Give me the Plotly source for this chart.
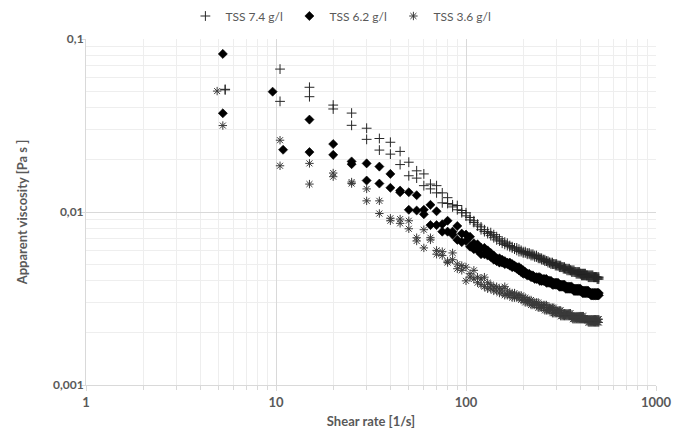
import plotly.graph_objects as go

shear_rate = [5, 10, 15, 20, 25, 30, 35, 40, 45, 50, 55, 60, 65, 70, 75, 80, 85, 90, 95, 100,
              105, 110, 115, 120, 125, 130, 135, 140, 145, 150, 155, 160, 165, 170, 175, 180, 185, 190, 195, 200,
              205, 210, 215, 220, 225, 230, 235, 240, 245, 250, 255, 260, 265, 270, 275, 280, 285, 290, 295, 300,
              305, 310, 315, 320, 325, 330, 335, 340, 345, 350, 355, 360, 365, 370, 375, 380, 385, 390, 395, 400,
              405, 410, 415, 420, 425, 430, 435, 440, 445, 450, 455, 460, 465, 470, 475, 480, 485, 490, 495, 500]

# first two shear rates as they appear for each series
first_rates_74 = [5.4, 10.5]
first_rates_62 = [5.25, 9.6]
first_rates_62b = [5.25, 10.9]
first_rates_36 = [4.9, 10.5]
first_rates_36b = [5.25, 10.5]

# TSS 7.4 g/l  (two sweeps)
tss74_a = [0.0512, 0.0670, 0.0526, 0.0415, 0.0373, 0.0305, 0.0266, 0.0253, 0.0224, 0.0194,
           0.0173, 0.0166, 0.0145, 0.0142, 0.0129, 0.0121, 0.0110, 0.0109, 0.0102, 0.0099,
           0.0093, 0.0089, 0.0085, 0.0082, 0.0079, 0.0077, 0.0076, 0.0074, 0.0072, 0.0070,
           0.0068, 0.0067, 0.0066, 0.0064, 0.0063, 0.0062, 0.0062, 0.0061, 0.0060, 0.0059,
           0.0059, 0.0058, 0.0058, 0.0057, 0.0057, 0.0056, 0.0056, 0.0055, 0.0054, 0.0054,
           0.0053, 0.0053, 0.0052, 0.0052, 0.0051, 0.0051, 0.0051, 0.0050, 0.0050, 0.0050,
           0.0049, 0.0049, 0.0049, 0.0048, 0.0048, 0.0048, 0.0047, 0.0047, 0.0047, 0.0047,
           0.0046, 0.0046, 0.0046, 0.0046, 0.0045, 0.0045, 0.0045, 0.0045, 0.0045, 0.0044,
           0.0044, 0.0044, 0.0044, 0.0044, 0.0044, 0.0043, 0.0043, 0.0043, 0.0043, 0.0043,
           0.0043, 0.0043, 0.0043, 0.0042, 0.0042, 0.0042, 0.0042, 0.0042, 0.0042, 0.0042]
tss74_b = [0.0508, 0.0436, 0.0464, 0.0394, 0.0317, 0.0263, 0.0228, 0.0216, 0.0188, 0.0162,
           0.0157, 0.0142, 0.0136, 0.0129, 0.0113, 0.0112, 0.0107, 0.0103, 0.0099, 0.0095,
           0.0090, 0.0087, 0.0083, 0.0079, 0.0077, 0.0075, 0.0073, 0.0071, 0.0069, 0.0068,
           0.0066, 0.0065, 0.0064, 0.0063, 0.0062, 0.0061, 0.0060, 0.0059, 0.0059, 0.0058,
           0.0058, 0.0057, 0.0057, 0.0056, 0.0056, 0.0055, 0.0055, 0.0054, 0.0054, 0.0053,
           0.0053, 0.0052, 0.0052, 0.0051, 0.0051, 0.0050, 0.0050, 0.0050, 0.0049, 0.0049,
           0.0049, 0.0048, 0.0048, 0.0048, 0.0047, 0.0047, 0.0047, 0.0046, 0.0046, 0.0046,
           0.0046, 0.0045, 0.0045, 0.0045, 0.0045, 0.0044, 0.0044, 0.0044, 0.0044, 0.0044,
           0.0043, 0.0043, 0.0043, 0.0043, 0.0043, 0.0043, 0.0043, 0.0042, 0.0042, 0.0042,
           0.0042, 0.0042, 0.0042, 0.0042, 0.0042, 0.0042, 0.0042, 0.0041, 0.0041, 0.0041]

# TSS 6.2 g/l  (two sweeps)
tss62_a = [0.0820, 0.0496, 0.0342, 0.0247, 0.0196, 0.0191, 0.0183, 0.0166, 0.0133, 0.0130,
           0.0125, 0.0103, 0.0110, 0.0101, 0.0085, 0.0089, 0.0077, 0.0083, 0.0075, 0.0074,
           0.0072, 0.0066, 0.0065, 0.0062, 0.0062, 0.0060, 0.0058, 0.0056, 0.0054, 0.0054,
           0.0053, 0.0052, 0.0051, 0.0051, 0.0050, 0.0049, 0.0048, 0.0048, 0.0047, 0.0046,
           0.0045, 0.0044, 0.0044, 0.0043, 0.0043, 0.0042, 0.0042, 0.0042, 0.0042, 0.0041,
           0.0041, 0.0041, 0.0041, 0.0040, 0.0040, 0.0040, 0.0039, 0.0039, 0.0039, 0.0039,
           0.0039, 0.0038, 0.0038, 0.0038, 0.0038, 0.0038, 0.0037, 0.0037, 0.0037, 0.0037,
           0.0037, 0.0037, 0.0036, 0.0036, 0.0036, 0.0036, 0.0036, 0.0036, 0.0036, 0.0036,
           0.0035, 0.0035, 0.0035, 0.0035, 0.0035, 0.0035, 0.0035, 0.0035, 0.0034, 0.0034,
           0.0034, 0.0034, 0.0034, 0.0034, 0.0034, 0.0034, 0.0034, 0.0034, 0.0034, 0.0034]
tss62_b = [0.0372, 0.0229, 0.0222, 0.0214, 0.0189, 0.0152, 0.0146, 0.0138, 0.0130, 0.0103,
           0.0102, 0.0097, 0.0084, 0.0084, 0.0077, 0.0077, 0.0074, 0.0069, 0.0067, 0.0068,
           0.0063, 0.0061, 0.0060, 0.0057, 0.0057, 0.0056, 0.0055, 0.0053, 0.0052, 0.0051,
           0.0051, 0.0050, 0.0050, 0.0049, 0.0048, 0.0048, 0.0047, 0.0046, 0.0045, 0.0044,
           0.0044, 0.0043, 0.0043, 0.0042, 0.0042, 0.0041, 0.0041, 0.0041, 0.0040, 0.0040,
           0.0040, 0.0040, 0.0039, 0.0039, 0.0039, 0.0039, 0.0038, 0.0038, 0.0038, 0.0038,
           0.0038, 0.0037, 0.0037, 0.0037, 0.0037, 0.0037, 0.0036, 0.0036, 0.0036, 0.0036,
           0.0036, 0.0036, 0.0036, 0.0035, 0.0035, 0.0035, 0.0035, 0.0035, 0.0035, 0.0035,
           0.0035, 0.0034, 0.0034, 0.0034, 0.0034, 0.0034, 0.0034, 0.0034, 0.0034, 0.0034,
           0.0033, 0.0033, 0.0033, 0.0033, 0.0033, 0.0033, 0.0033, 0.0033, 0.0033, 0.0033]

# TSS 3.6 g/l  (two sweeps)
tss36_a = [0.0500, 0.0260, 0.0191, 0.0168, 0.0149, 0.0136, 0.0116, 0.0092, 0.0091, 0.0089,
           0.0071, 0.0079, 0.0071, 0.0060, 0.0059, 0.0052, 0.0058, 0.0050, 0.0049, 0.0048,
           0.0044, 0.0046, 0.0042, 0.0041, 0.0042, 0.0039, 0.0038, 0.0037, 0.0037, 0.0036,
           0.0036, 0.0037, 0.0035, 0.0034, 0.0034, 0.0034, 0.0033, 0.0033, 0.0033, 0.0032,
           0.0032, 0.0031, 0.0031, 0.0031, 0.0030, 0.0030, 0.0030, 0.0030, 0.0029, 0.0029,
           0.0029, 0.0029, 0.0029, 0.0028, 0.0028, 0.0028, 0.0028, 0.0028, 0.0027, 0.0027,
           0.0027, 0.0027, 0.0027, 0.0026, 0.0026, 0.0026, 0.0026, 0.0026, 0.0026, 0.0026,
           0.0026, 0.0025, 0.0025, 0.0025, 0.0025, 0.0025, 0.0025, 0.0025, 0.0025, 0.0025,
           0.0025, 0.0025, 0.0025, 0.0024, 0.0024, 0.0024, 0.0024, 0.0024, 0.0024, 0.0024,
           0.0024, 0.0024, 0.0024, 0.0024, 0.0024, 0.0024, 0.0024, 0.0024, 0.0024, 0.0024]
tss36_b = [0.0316, 0.0185, 0.0145, 0.0160, 0.0146, 0.0116, 0.0098, 0.0089, 0.0086, 0.0080,
           0.0068, 0.0062, 0.0069, 0.0057, 0.0056, 0.0051, 0.0053, 0.0047, 0.0046, 0.0040,
           0.0042, 0.0041, 0.0039, 0.0038, 0.0037, 0.0036, 0.0036, 0.0035, 0.0035, 0.0034,
           0.0034, 0.0033, 0.0033, 0.0033, 0.0032, 0.0032, 0.0032, 0.0032, 0.0031, 0.0031,
           0.0030, 0.0030, 0.0030, 0.0029, 0.0029, 0.0029, 0.0029, 0.0028, 0.0028, 0.0028,
           0.0028, 0.0027, 0.0027, 0.0027, 0.0027, 0.0027, 0.0026, 0.0026, 0.0026, 0.0026,
           0.0026, 0.0026, 0.0025, 0.0025, 0.0025, 0.0025, 0.0025, 0.0025, 0.0025, 0.0025,
           0.0025, 0.0025, 0.0024, 0.0024, 0.0024, 0.0024, 0.0024, 0.0024, 0.0024, 0.0024,
           0.0024, 0.0024, 0.0024, 0.0024, 0.0024, 0.0024, 0.0024, 0.0023, 0.0023, 0.0023,
           0.0023, 0.0023, 0.0023, 0.0023, 0.0023, 0.0023, 0.0023, 0.0023, 0.0023, 0.0023]

series_names = ["TSS 7.4 g/l", "TSS 6.2 g/l", "TSS 3.6 g/l"]

y_tickvals = [0.001, 0.01, 0.1]
y_ticktext = ["0,001", "0,01", "0,1"]
x_tickvals = [1, 10, 100, 1000]
x_ticktext = ["1", "10", "100", "1000"]

# minor gridline positions (2..9 within each decade)
x_minor = [m * d for d in (1, 10, 100) for m in range(2, 10)]
y_minor = [m * d for d in (0.001, 0.01) for m in range(2, 10)]

FONT = "Lato, Open Sans, sans-serif"
GREY = "#595959"

fig = go.Figure()

x74 = first_rates_74 + shear_rate[2:] + first_rates_74 + shear_rate[2:]
fig.add_trace(go.Scatter(
    x=x74, y=tss74_a + tss74_b, mode="markers", name=series_names[0],
    marker=dict(symbol="cross-thin-open", size=7, color="#262626",
                line=dict(width=1, color="#262626"))))

x62 = first_rates_62 + shear_rate[2:] + first_rates_62b + shear_rate[2:]
fig.add_trace(go.Scatter(
    x=x62, y=tss62_a + tss62_b, mode="markers", name=series_names[1],
    marker=dict(symbol="diamond", size=7, color="#000000",
                line=dict(width=0.6, color="#000000"))))

x36 = first_rates_36 + shear_rate[2:] + first_rates_36b + shear_rate[2:]
fig.add_trace(go.Scatter(
    x=x36, y=tss36_a + tss36_b, mode="markers", name=series_names[2],
    marker=dict(symbol="asterisk-open", size=7, color="#3a3a3a",
                line=dict(width=1, color="#3a3a3a"))))

fig.update_layout(
    width=686, height=437,
    margin=dict(l=78, r=38, t=31, b=60, autoexpand=False),
    paper_bgcolor="white", plot_bgcolor="white",
    font=dict(family=FONT, color=GREY, size=12),
    showlegend=True,
    legend=dict(orientation="h", x=0.486, xanchor="center", xref="container",
                y=1 - 8 / 437, yanchor="middle", yref="container",
                font=dict(family=FONT, size=12, color=GREY), itemwidth=30,
                entrywidth=59, tracegroupgap=0, bgcolor="rgba(0,0,0,0)"),
    hovermode=False,
)

fig.update_xaxes(
    type="log", range=[0, 3], automargin=False,
    tickvals=x_tickvals, ticktext=x_ticktext,
    tickfont=dict(family=FONT, size=13, color=GREY, weight="bold"),
    showgrid=True, gridcolor="#d9d9d9", gridwidth=1,
    showline=True, linecolor="#d9d9d9", linewidth=1,
    ticks="outside", ticklen=5, tickcolor="#d9d9d9",
    minor=dict(tickvals=x_minor, showgrid=True, gridcolor="#eeeeee", gridwidth=1,
               ticks="outside", ticklen=4, tickcolor="#d9d9d9"),
    zeroline=False,
    title=dict(text="Shear rate [1/s]", standoff=8,
               font=dict(family=FONT, size=13, color=GREY, weight="bold")),
)
fig.update_yaxes(
    type="log", range=[-3, -1], automargin=False,
    tickvals=y_tickvals, ticktext=y_ticktext,
    tickfont=dict(family=FONT, size=12, color=GREY, weight="bold"),
    ticklabelstandoff=-6,
    showgrid=True, gridcolor="#d9d9d9", gridwidth=1,
    showline=True, linecolor="#d9d9d9", linewidth=1,
    ticks="outside", ticklen=5, tickcolor="#d9d9d9",
    minor=dict(tickvals=y_minor, showgrid=True, gridcolor="#eeeeee", gridwidth=1),
    zeroline=False,
    title=dict(text="Apparent viscosity [Pa s ]", standoff=22,
               font=dict(family=FONT, size=13, color=GREY, weight="bold")),
)

fig.write_html("out.html")
